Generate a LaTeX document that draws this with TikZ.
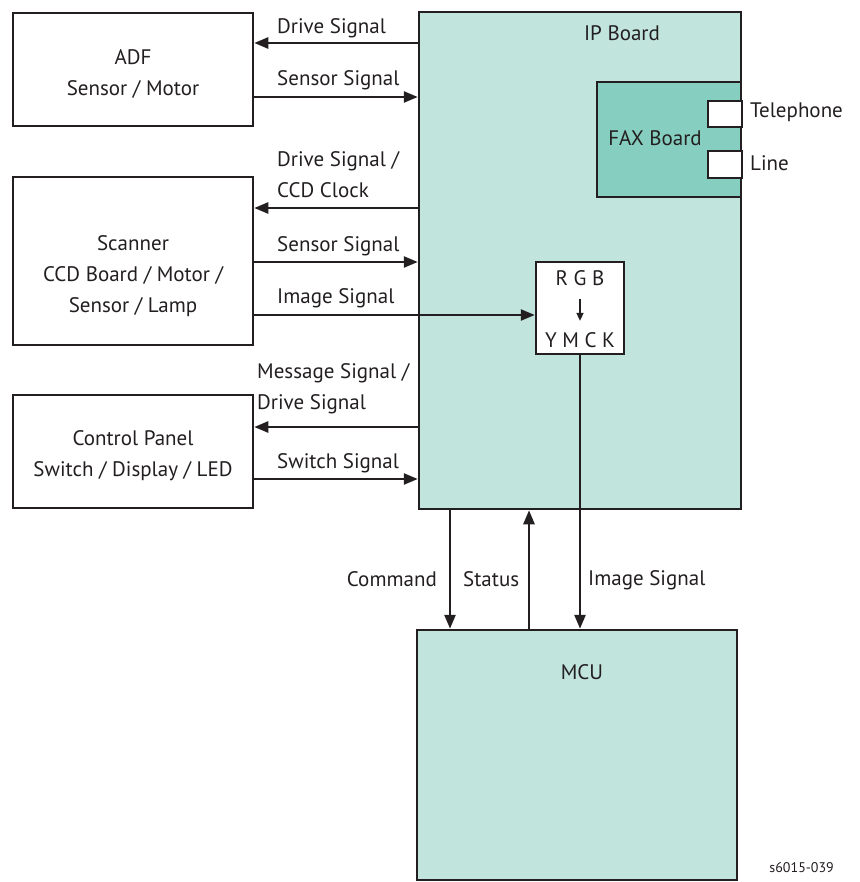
\documentclass[tikz,border=0pt]{standalone}
\usepackage{fontspec}
\setmainfont{PT Sans}
\usepackage{tikz}
\usetikzlibrary{arrows.meta,positioning,calc}
\definecolor{ipteal}{HTML}{C1E4DC}
\definecolor{faxteal}{HTML}{86CFC0}
\definecolor{inkgray}{HTML}{231F20}

\begin{document}
\begin{tikzpicture}[
  x=1pt, y=-1pt,
  every node/.style={font=\fontsize{21}{31}\selectfont, text=inkgray, align=center},
  unit/.style={draw=inkgray, line width=2.5pt, fill=white, inner sep=0pt},
  board/.style={unit, fill=ipteal},
  sig/.style={draw=inkgray, line width=2.5pt, -{Triangle[length=14pt,width=11pt]}},
  lbl/.style={anchor=west, align=left, inner sep=0pt}
]
\useasboundingbox (0,0) rectangle (859,882);

\node[unit, minimum width=240pt, minimum height=113pt] (adf) at (133,69.5) {};
\node (adftxt) at ([yshift=-5pt]adf.center) {ADF\\Sensor / Motor};
\node[unit, minimum width=240pt, minimum height=168pt] (scanner) at (133,261) {};
\node (scantxt) at ([yshift=-15pt]scanner.center) {Scanner\\CCD Board / Motor /\\Sensor / Lamp};
\node[unit, minimum width=240pt, minimum height=113pt] (panel) at (133,451.5) {};
\node (paneltxt) at ([yshift=-4pt]panel.center) {Control Panel\\Switch / Display / LED};

\node[board, minimum width=322pt, minimum height=497pt] (ip) at (580,260.5) {};
\node (iptxt) at (622,33) {IP Board};
\node[board, fill=faxteal, minimum width=144pt, minimum height=115pt] (fax) at (669,139.5) {};
\node (faxtxt) at (655,138) {FAX Board};
\node[unit, minimum width=34pt, minimum height=26pt] (tel) at (725,114) {};
\node[unit, minimum width=34pt, minimum height=27pt] (line) at (725,164.5) {};
\node[lbl] (teltxt) at (750,112) {Telephone};
\node[lbl] (linetxt) at (750,163) {Line};

\node[unit, minimum width=88pt, minimum height=92pt] (rgb) at (580,308) {};
\node (rgbtop) at (580,278) {R G B};
\node (rgbbot) at (580,340) {Y M C K};
\draw[draw=inkgray, line width=1.5pt, shorten <=10pt, shorten >=8pt,
  -{Triangle[length=8pt,width=7pt]}] (rgbtop.south) -- (rgbbot.north);

\node[board, minimum width=320pt, minimum height=250pt] (mcu) at (577,755) {};
\node (mcutxt) at (582,672) {MCU};

% signal lines between the side units and the IP board
\foreach \a/\b/\y in {ip.west/adf.east/43, adf.east/ip.west/97,
    ip.west/scanner.east/208, scanner.east/ip.west/262, scanner.east/rgb.west/315,
    ip.west/panel.east/427, panel.east/ip.west/479}
  \draw[sig] (\a |- 0,\y) -- (\b |- 0,\y);

\node[lbl] (drvA) at (277,28) {Drive Signal};
\node[lbl] (snsA) at (277,80) {Sensor Signal};
\node[lbl] (drvB) at (277,175) {Drive Signal /\\CCD Clock};
\node[lbl] (snsB) at (277,246) {Sensor Signal};
\node[lbl] (imgA) at (277,298) {Image Signal};
\node[lbl] (msg) at (257,389) {Message Signal /\\Drive Signal};
\node[lbl] (swt) at (277,463) {Switch Signal};

\draw[sig] (ip.south -| 450,0) -- (mcu.north -| 450,0);
\draw[sig] (mcu.north -| 529,0) -- (ip.south -| 529,0);
\draw[sig] (rgb.south) -- (mcu.north -| rgb.south);

\node[lbl, anchor=east] (cmd) at (437,579) {Command};
\node[lbl] (sts) at (463,579) {Status};
\node[lbl] (imgB) at (588,580) {Image Signal};

\node[font=\fontsize{14}{16}\selectfont, anchor=east, inner sep=0pt] (figid) at (834,868) {s6015-039};
\end{tikzpicture}
\end{document}
